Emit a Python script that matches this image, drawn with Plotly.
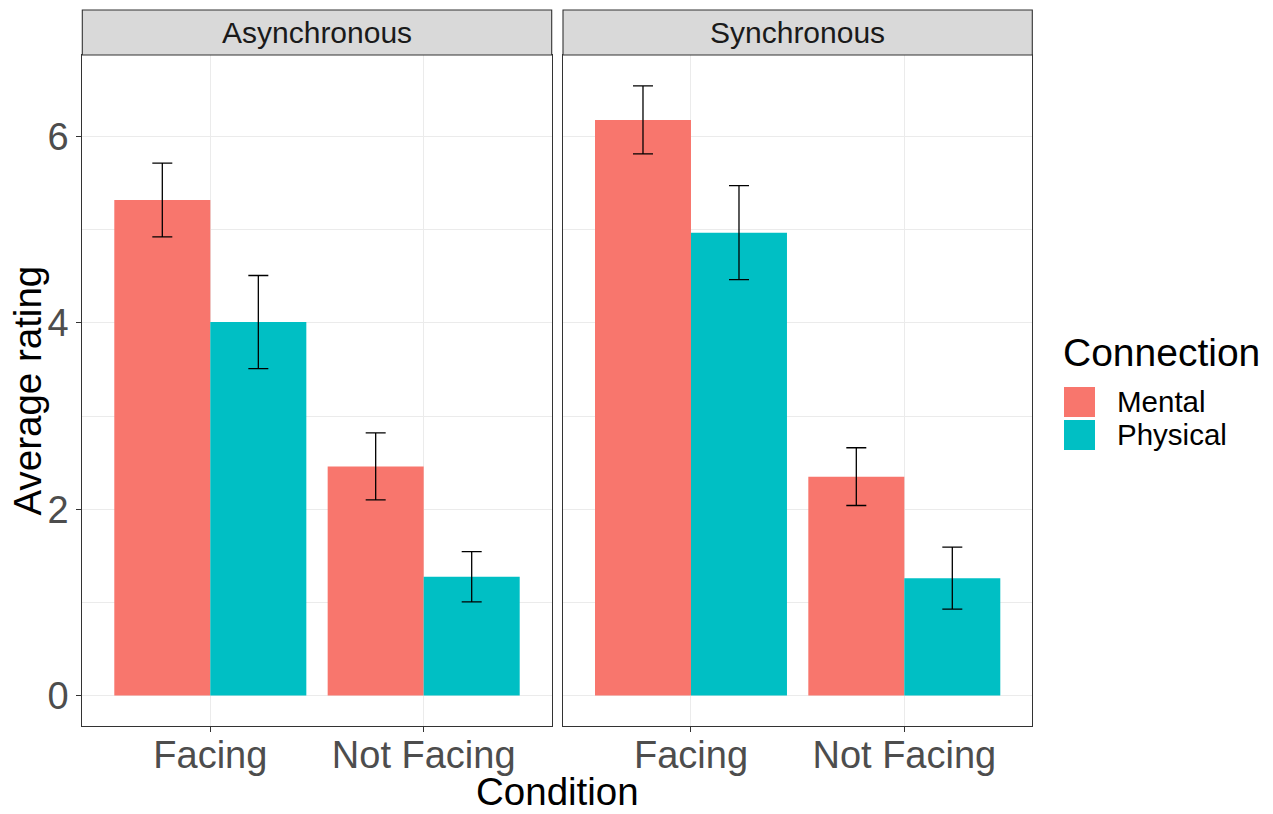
import plotly.graph_objects as go

# Data
conditions = ["Facing", "Not Facing"]
facets = ["Asynchronous", "Synchronous"]
connections = ["Mental", "Physical"]

async_mental = [5.32, 2.46]
async_mental_se = [0.396, 0.36]
async_physical = [4.01, 1.275]
async_physical_se = [0.50, 0.27]

sync_mental = [6.18, 2.35]
sync_mental_se = [0.365, 0.31]
sync_physical = [4.97, 1.26]
sync_physical_se = [0.505, 0.333]

colors = {"Mental": "#F8766D", "Physical": "#00BFC4"}

W, H = 1273, 814
FONT = "Liberation Sans, Arial, sans-serif"


def px_x(x):
    return x / W


def px_y(y):
    return 1 - y / H


panel_top, panel_bottom = 55, 726
strip_top = 10
panels = [(82.3, 551.7), (563.0, 1032.3)]

series = {
    "Asynchronous": {"Mental": (async_mental, async_mental_se),
                     "Physical": (async_physical, async_physical_se)},
    "Synchronous": {"Mental": (sync_mental, sync_mental_se),
                    "Physical": (sync_physical, sync_physical_se)},
}

fig = go.Figure()
for i, facet in enumerate(facets):
    xa = "x" if i == 0 else "x2"
    ya = "y" if i == 0 else "y2"
    for conn in connections:
        vals, errs = series[facet][conn]
        fig.add_trace(go.Bar(
            x=conditions, y=vals, name=conn,
            marker=dict(color=colors[conn], line=dict(width=0)),
            error_y=dict(type="data", array=errs, color="black",
                         thickness=1.3, width=10),
            xaxis=xa, yaxis=ya, showlegend=False,
        ))

y_common = dict(
    range=[-0.3275, 6.8775], tickvals=[0, 2, 4, 6],
    ticks="outside", ticklen=5, tickcolor="#333333", tickwidth=1.1,
    tickfont=dict(family=FONT, size=38, color="#4D4D4D"),
    showgrid=True, gridcolor="#EBEBEB", gridwidth=1.1,
    minor=dict(dtick=1, tick0=0, showgrid=True, gridcolor="#EBEBEB", gridwidth=0.6),
    zeroline=False, showline=True, linecolor="#333333", linewidth=1.1, mirror=True,
    domain=[px_y(panel_bottom), px_y(panel_top)],
)
x_common = dict(
    type="category", categoryorder="array", categoryarray=conditions,
    range=[-0.6, 1.6],
    ticks="outside", ticklen=5, tickcolor="#333333", tickwidth=1.1,
    tickfont=dict(family=FONT, size=38, color="#4D4D4D"),
    ticklabelstandoff=-10,
    showgrid=True, gridcolor="#EBEBEB", gridwidth=1.1,
    zeroline=False, showline=True, linecolor="#333333", linewidth=1.1, mirror=True,
)

fig.update_layout(
    width=W, height=H,
    margin=dict(l=0, r=0, t=0, b=0),
    paper_bgcolor="white", plot_bgcolor="white",
    barmode="group", bargap=0.1, bargroupgap=0,
    showlegend=False,
    xaxis=dict(**x_common, domain=[px_x(panels[0][0]), px_x(panels[0][1])], anchor="y"),
    xaxis2=dict(**x_common, domain=[px_x(panels[1][0]), px_x(panels[1][1])], anchor="y2"),
    yaxis=dict(**y_common, anchor="x"),
    yaxis2=dict(**{**y_common, "ticks": ""}, anchor="x2", showticklabels=False),
)

shapes = []
annotations = []
# Facet strips
for (x0, x1), facet in zip(panels, facets):
    shapes.append(dict(type="rect", xref="paper", yref="paper",
                       x0=px_x(x0), x1=px_x(x1), y0=px_y(panel_top), y1=px_y(strip_top),
                       fillcolor="#D9D9D9", line=dict(color="#333333", width=1.1)))
    annotations.append(dict(text=facet, xref="paper", yref="paper",
                            x=px_x((x0 + x1) / 2), y=px_y((strip_top + panel_top) / 2),
                            xanchor="center", yanchor="middle", showarrow=False,
                            font=dict(family=FONT, size=30, color="#1A1A1A")))

# Axis titles
annotations.append(dict(text="Condition", xref="paper", yref="paper",
                        x=px_x((panels[0][0] + panels[1][1]) / 2), y=px_y(791),
                        xanchor="center", yanchor="middle", showarrow=False,
                        font=dict(family=FONT, size=38.5, color="black")))
annotations.append(dict(text="Average rating", xref="paper", yref="paper",
                        x=px_x(27), y=px_y((panel_top + panel_bottom) / 2),
                        xanchor="center", yanchor="middle", showarrow=False, textangle=-90,
                        font=dict(family=FONT, size=38.5, color="black")))

# Legend
annotations.append(dict(text="Connection", xref="paper", yref="paper",
                        x=px_x(1061), y=px_y(352), xanchor="left", yanchor="middle",
                        showarrow=False, font=dict(family=FONT, size=39, color="black")))
key_rows = [(387, 417), (420, 450)]
for conn, (k0, k1) in zip(connections, key_rows):
    shapes.append(dict(type="rect", xref="paper", yref="paper",
                       x0=px_x(1064), x1=px_x(1095), y0=px_y(k1), y1=px_y(k0),
                       fillcolor=colors[conn], line=dict(width=0)))
    annotations.append(dict(text=conn, xref="paper", yref="paper",
                            x=px_x(1115), y=px_y((k0 + k1) / 2), xanchor="left", yanchor="middle",
                            showarrow=False, font=dict(family=FONT, size=29.5, color="black")))

fig.update_layout(shapes=shapes, annotations=annotations)
fig.write_html("out.html")
